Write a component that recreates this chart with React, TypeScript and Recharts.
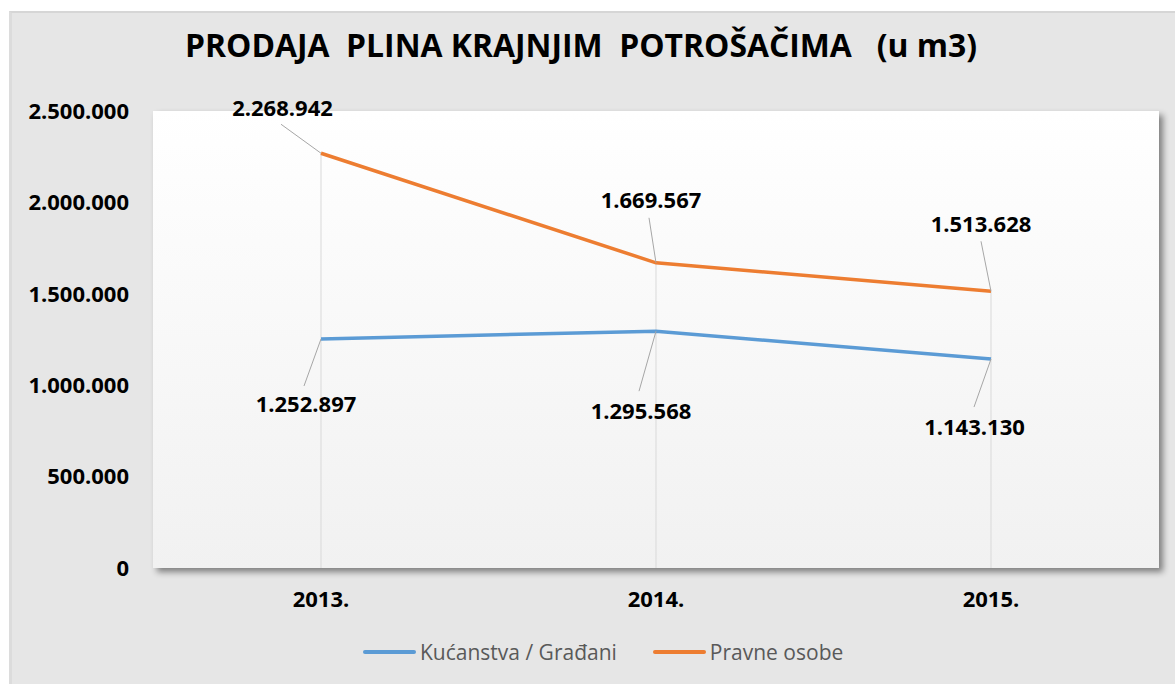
import React from 'react';
import { LineChart, Line, XAxis, YAxis, CartesianGrid, ReferenceLine, LabelList, Legend } from 'recharts';

const years = ['2013.', '2014.', '2015.'];
const kucanstva = [1252897, 1295568, 1143130];
const pravneOsobe = [2268942, 1669567, 1513628];
const yTicks = [0, 500000, 1000000, 1500000, 2000000, 2500000];
const seriesNames = ['Kućanstva / Građani', 'Pravne osobe'];
const title = 'PRODAJA  PLINA KRAJNJIM  POTROŠAČIMA   (u m3)';

const data = years.map((year, i) => ({
  year,
  kucanstva: kucanstva[i],
  pravne: pravneOsobe[i],
  top: Math.max(kucanstva[i], pravneOsobe[i]),
}));

const fmt = (v: number) => (v === 0 ? '0' : String(v).replace(/\B(?=(\d{3})+(?!\d))/g, '.'));

const FONT = '"Open Sans", "Noto Sans", sans-serif';
const BLUE = '#5b9bd5';
const ORANGE = '#ed7d31';

// label placement (styling)
const blueLabelOffsets = [
  { dx: -15, dy: 65.5, lx: -17, ly: 47 },
  { dx: -15, dy: 79.5, lx: -17, ly: 60 },
  { dx: -16.5, dy: 67.5, lx: -17, ly: 48 },
];
const orangeLabelOffsets = [
  { dx: -38.5, dy: -45.5, lx: -40, ly: -29 },
  { dx: -5, dy: -62.5, lx: -7, ly: -45 },
  { dx: -10, dy: -67, lx: -10, ly: -50 },
];

const makeLabel = (offsets: any[]) => (props: any) => {
  const { x, y, value, index } = props;
  const o = offsets[index];
  if (!o) return null;
  return (
    <g>
      <line x1={x + o.lx} y1={y + o.ly} x2={x} y2={y} stroke="#a6a6a6" strokeWidth={1} />
      <text
        x={x + o.dx}
        y={y + o.dy + 8}
        textAnchor="middle"
        fontFamily={FONT}
        fontWeight={700}
        fontSize={22}
        fill="#000"
      >
        {fmt(Number(value))}
      </text>
    </g>
  );
};

const renderLegend = (props: any) => {
  const { payload } = props;
  return (
    <div style={{ display: 'flex', alignItems: 'center', marginLeft: 353, height: 24 }}>
      {(payload || []).map((p: any, i: number) => (
        <div key={i} style={{ display: 'flex', alignItems: 'center', marginRight: 36 }}>
          <div style={{ width: 53, height: 3.5, background: p.color, borderRadius: 2 }} />
          <span
            style={{
              marginLeft: 4,
              fontFamily: FONT,
              fontSize: 21,
              color: '#595959',
              lineHeight: '24px',
              whiteSpace: 'pre',
            }}
          >
            {p.value}
          </span>
        </div>
      ))}
    </div>
  );
};

const tickStyle = { fill: '#000', fontSize: 22, fontWeight: 700, fontFamily: FONT };

export default function App() {
  return (
    <div style={{ position: 'absolute', left: 0, top: 0, width: 1175, height: 684, background: '#fff', overflow: 'hidden' }}>
      <style>{`.recharts-cartesian-grid-bg{filter:drop-shadow(4px 4px 3px rgba(0,0,0,0.45));}`}</style>
      <svg width={0} height={0} style={{ position: 'absolute' }}>
        <defs>
          <linearGradient id="plotGrad" x1="0" y1="0" x2="0" y2="1">
            <stop offset="0%" stopColor="#ffffff" />
            <stop offset="100%" stopColor="#f1f1f1" />
          </linearGradient>
        </defs>
      </svg>
      <div
        style={{
          position: 'absolute',
          left: 9,
          top: 11,
          width: 1166,
          height: 673,
          background: '#e6e6e6',
          borderTop: '2px solid #d6d6d6',
          borderLeft: '3px solid #dcdcdc',
          boxSizing: 'border-box',
        }}
      />
      <svg width={1175} height={100} style={{ position: 'absolute', left: 0, top: 0 }}>
        <text
          x={185}
          y={57}
          fontFamily={FONT}
          fontWeight={700}
          fontSize={33}
          fill="#000"
          textLength={792}
          lengthAdjust="spacingAndGlyphs"
          style={{ whiteSpace: 'pre' }}
        >
          {title}
        </text>
      </svg>
      <div style={{ position: 'absolute', left: 10, top: 11 }}>
        <LineChart width={1165} height={673} data={data} margin={{ top: 100, right: 16, bottom: 86, left: 0 }}>
          <CartesianGrid horizontal={false} vertical={false} fill="url(#plotGrad)" stroke="none" />
          <XAxis
            dataKey="year"
            axisLine={false}
            tickLine={false}
            tickSize={0}
            tickMargin={23}
            height={30}
            padding={{ left: 168, right: 168 }}
            tick={tickStyle}
            interval={0}
          />
          <YAxis
            domain={[0, 2500000]}
            ticks={yTicks}
            axisLine={false}
            tickLine={false}
            tickSize={0}
            tickMargin={24}
            width={143}
            tick={tickStyle}
            tickFormatter={fmt}
            interval={0}
          />
          {data.map((d) => (
            <ReferenceLine
              key={d.year}
              segment={[
                { x: d.year, y: 0 },
                { x: d.year, y: d.top },
              ]}
              stroke="#d9d9d9"
              strokeWidth={1}
            />
          ))}
          <Legend
            layout="horizontal"
            verticalAlign="middle"
            align="center"
            content={renderLegend}
            wrapperStyle={{ top: 629, left: 0, width: 1165 }}
          />
          <Line
            type="linear"
            dataKey="kucanstva"
            name={seriesNames[0]}
            stroke={BLUE}
            strokeWidth={3.5}
            dot={false}
            activeDot={false}
            isAnimationActive={false}
          >
            <LabelList dataKey="kucanstva" content={makeLabel(blueLabelOffsets)} />
          </Line>
          <Line
            type="linear"
            dataKey="pravne"
            name={seriesNames[1]}
            stroke={ORANGE}
            strokeWidth={3.5}
            dot={false}
            activeDot={false}
            isAnimationActive={false}
          >
            <LabelList dataKey="pravne" content={makeLabel(orangeLabelOffsets)} />
          </Line>
        </LineChart>
      </div>
    </div>
  );
}
